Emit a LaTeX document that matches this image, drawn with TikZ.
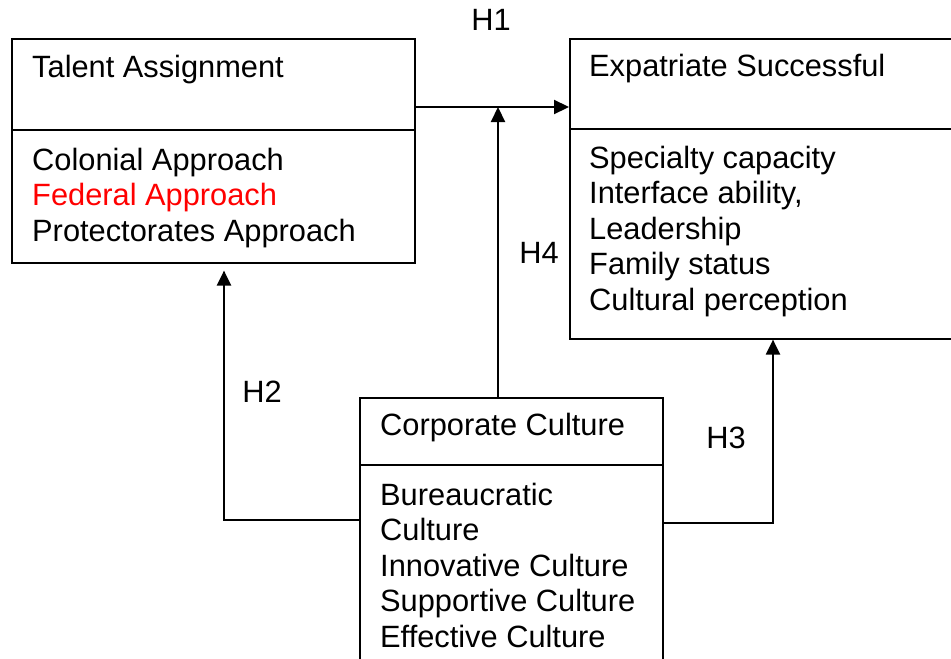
\documentclass[tikz,border=0pt]{standalone}
\usepackage{fontspec}
\setmainfont{Liberation Sans}
\usetikzlibrary{arrows.meta}

\begin{document}
\begin{tikzpicture}[
    x=1pt, y=-1pt,
    >={Triangle[length=15pt, width=14pt]},
    % Style for the framed boxes
    box/.style={draw, line width=1.6pt, anchor=north west, inner sep=0pt},
    head/.style={anchor=base west, inner sep=0pt, font=\fontsize{30.8}{35.5}\selectfont},
    % multi-line lists: placed at the baseline of their last line
    items/.style={head, align=left},
    hyp/.style={inner sep=0pt, font=\fontsize{30.8}{35.5}\selectfont},
    link/.style={line width=2.2pt}
]
\useasboundingbox (0,0) rectangle (951,659);

% --- Talent Assignment ---
\node[box, minimum width=403pt, minimum height=224pt] (talent) at (11,38) {};
\draw[line width=1.6pt] (talent.north west) ++(0,92) -- ++(403,0);
\node[head] (talent-t) at (32,77) {Talent Assignment};
\node[items] (talent-i) at (32,241) {Colonial Approach\\
    \textcolor{red}{Federal Approach}\\ Protectorates Approach};

% --- Expatriate Successful (runs past the right edge) ---
\node[box, minimum width=420pt, minimum height=300pt] (expat) at (569,38) {};
\draw[line width=2.6pt] (expat.north west) ++(0,91) -- ++(420,0);
\node[head] (expat-t) at (589,76) {Expatriate Successful};
\node[items] (expat-i) at (589,310) {Specialty capacity\\ Interface ability,\\
    Leadership\\ Family status\\ Cultural perception};

% --- Corporate Culture (runs past the bottom edge) ---
\node[box, minimum width=303pt, minimum height=300pt] (corp) at (359,397) {};
\draw[line width=2.6pt] (corp.north west) ++(0,68) -- ++(303,0);
\node[head] (corp-t) at (380,435) {Corporate Culture};
\node[items] (corp-i) at (380,647) {Bureaucratic\\ Culture\\ Innovative Culture\\
    Supportive Culture\\ Effective Culture};

% --- Hypothesis links ---
\coordinate (j1) at (498,107);
\coordinate (k2) at (224,520);
\coordinate (k3) at (773,523);
\draw[link, ->] (talent.east |- j1) -- (expat.west |- j1);
\draw[link, ->] (corp.north -| j1) -- (j1);
\draw[link, ->, shorten >=7pt] (corp.west |- k2) -- (k2) -- (k2 |- talent.south);
\draw[link, ->] (corp.east |- k3) -- (k3) -- (k3 |- expat.south);

% --- Labels ---
\node[hyp] (h1) at (491,20) {H1};
\node[hyp] (h2) at (262,392) {H2};
\node[hyp] (h3) at (726,438) {H3};
\node[hyp] (h4) at (539,253) {H4};

\end{tikzpicture}
\end{document}
